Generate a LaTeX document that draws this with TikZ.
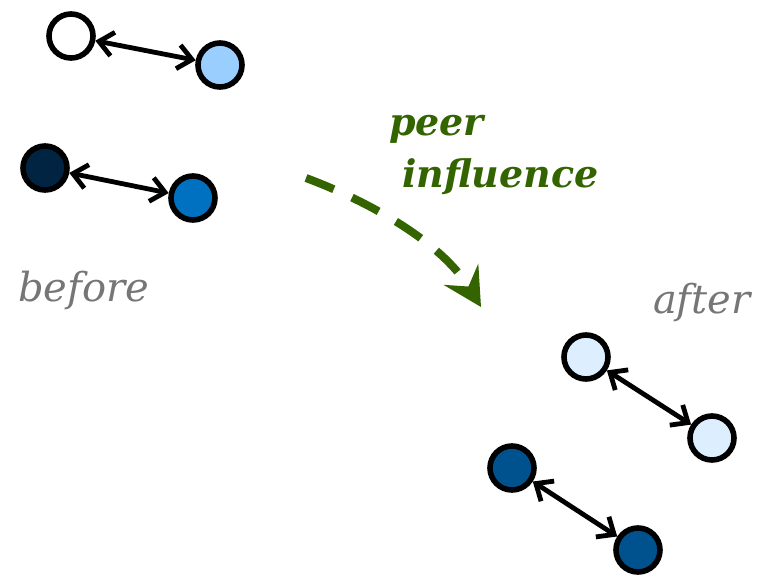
\documentclass[tikz,border=0pt]{standalone}
\usepackage{fontspec}
\setmainfont{DejaVu Serif}
\usetikzlibrary{arrows.meta}

\definecolor{peergreen}{RGB}{51,100,0}
\definecolor{taggray}{RGB}{118,118,118}
\definecolor{paleblue}{RGB}{153,206,255}
\definecolor{navy}{RGB}{0,36,66}
\definecolor{midblue}{RGB}{0,112,192}
\definecolor{iceblue}{RGB}{221,238,255}
\definecolor{deepblue}{RGB}{0,82,142}

\begin{document}
\begin{tikzpicture}[
		x=0.5pt, y=-0.5pt,
		dot/.style={circle, draw, line width=2.8pt, minimum size=22pt, inner sep=0pt},
		link/.style={{Straight Barb[length=7pt,width=12pt]}-{Straight Barb[length=7pt,width=12pt]}, line width=2.4pt},
		tag/.style={anchor=base west, text=taggray, font=\fontsize{20}{24}\selectfont\itshape},
		peertext/.style={anchor=base west, text=peergreen, font=\fontsize{19}{23}\selectfont\bfseries\itshape},
		influence/.style={draw=peergreen, line width=4pt, dash pattern=on 15pt off 10pt, -{Stealth[length=19pt,width=20pt,inset=7pt]}},
	]
	\useasboundingbox (0,0) rectangle (757,575);

	% before
	\node[dot, fill=white]    (a1) at (71,36)  {};
	\node[dot, fill=paleblue] (a2) at (220,65) {};
	\node[dot, fill=navy]     (b1) at (45,168) {};
	\node[dot, fill=midblue]  (b2) at (193,198) {};
	\node[tag] (before) at (11,301) {before};

	\draw[link] (a1) -- (a2);
	\draw[link] (b1) -- (b2);

	% after
	\node[dot, fill=iceblue]  (c1) at (586,357) {};
	\node[dot, fill=iceblue]  (c2) at (712,438) {};
	\node[dot, fill=deepblue] (d1) at (512,468) {};
	\node[dot, fill=deepblue] (d2) at (638,550) {};
	\node[tag] (after) at (646,313) {after};

	\draw[link] (c1) -- (c2);
	\draw[link] (d1) -- (d2);

	% peer influence
	\node[peertext] (peer) at (382,135) {peer};
	\node[peertext] (infl) at (395,187) {influence};
	\coordinate (from) at (306,178);
	\coordinate (to)   at (481,307);
	\draw[influence] (from) .. controls (365,200) and (440,240) .. (to);
\end{tikzpicture}
\end{document}
